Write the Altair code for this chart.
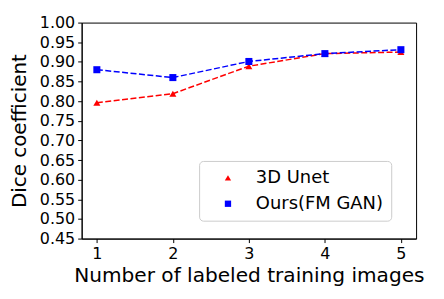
import altair as alt
import pandas as pd

x_vals = [1, 2, 3, 4, 5]
unet = [0.796, 0.819, 0.889, 0.921, 0.925]
fmgan = [0.880, 0.860, 0.901, 0.921, 0.931]
series_names = ["3D Unet", "Ours(FM GAN)"]
y_ticks = [0.45, 0.50, 0.55, 0.60, 0.65, 0.70, 0.75, 0.80, 0.85, 0.90, 0.95, 1.00]

rows = []
for s, vals in zip(series_names, [unet, fmgan]):
    for xv, yv in zip(x_vals, vals):
        rows.append({"x": xv, "y": yv, "series": s, "line": s})
df = pd.DataFrame(rows)

FONT = "DejaVu Sans"
colors = ["#ff0000", "#0000ff"]

xenc = alt.X("x:Q", scale=alt.Scale(domain=[0.8, 5.2], nice=False, zero=False),
             axis=alt.Axis(values=x_vals, format="d", title="Number of labeled training images",
                           titleFontSize=20.2))
yenc = alt.Y("y:Q", scale=alt.Scale(domain=[0.45, 1.0], nice=False, zero=False),
             axis=alt.Axis(values=y_ticks, format=".2f", title="Dice coefficient"))

leg = alt.Legend(title=None, orient="none", legendX=118, legendY=139,
                 labelFontSize=18, labelFont=FONT, labelColor="black",
                 symbolSize=40, padding=8, symbolOffset=12,
                 labelOffset=19, rowPadding=8,
                 strokeColor="#cccccc", cornerRadius=4, fillColor="white")

lines = alt.Chart(df).mark_line(strokeDash=[6, 2.5], strokeWidth=1.5).encode(
    x=xenc, y=yenc,
    stroke=alt.Stroke("line:N", scale=alt.Scale(domain=series_names, range=colors), legend=None),
)

points = alt.Chart(df).mark_point(filled=True, opacity=1, size=50).encode(
    x=xenc, y=yenc,
    color=alt.Color("series:N", scale=alt.Scale(domain=series_names, range=colors), legend=leg),
    shape=alt.Shape("series:N", scale=alt.Scale(domain=series_names, range=["triangle-up", "square"]),
                    legend=leg),
)

chart = alt.layer(lines, points).resolve_scale(stroke="independent").properties(
    width=336, height=217,
    autosize=alt.AutoSizeParams(type="none"),
    padding={"left": 74, "top": 14, "right": 20, "bottom": 52},
).configure_view(stroke="black", strokeWidth=1).configure_axis(
    grid=False, domainColor="black", tickColor="black", tickSize=4,
    labelFont=FONT, labelFontSize=16, labelColor="black",
    titleFont=FONT, titleFontSize=20, titleFontWeight="normal", titleColor="black",
    labelPadding=3,
).configure_axisX(titlePadding=4).configure_axisY(titlePadding=10)

chart.save("out.html", embed_options={"renderer": "svg", "actions": False})
